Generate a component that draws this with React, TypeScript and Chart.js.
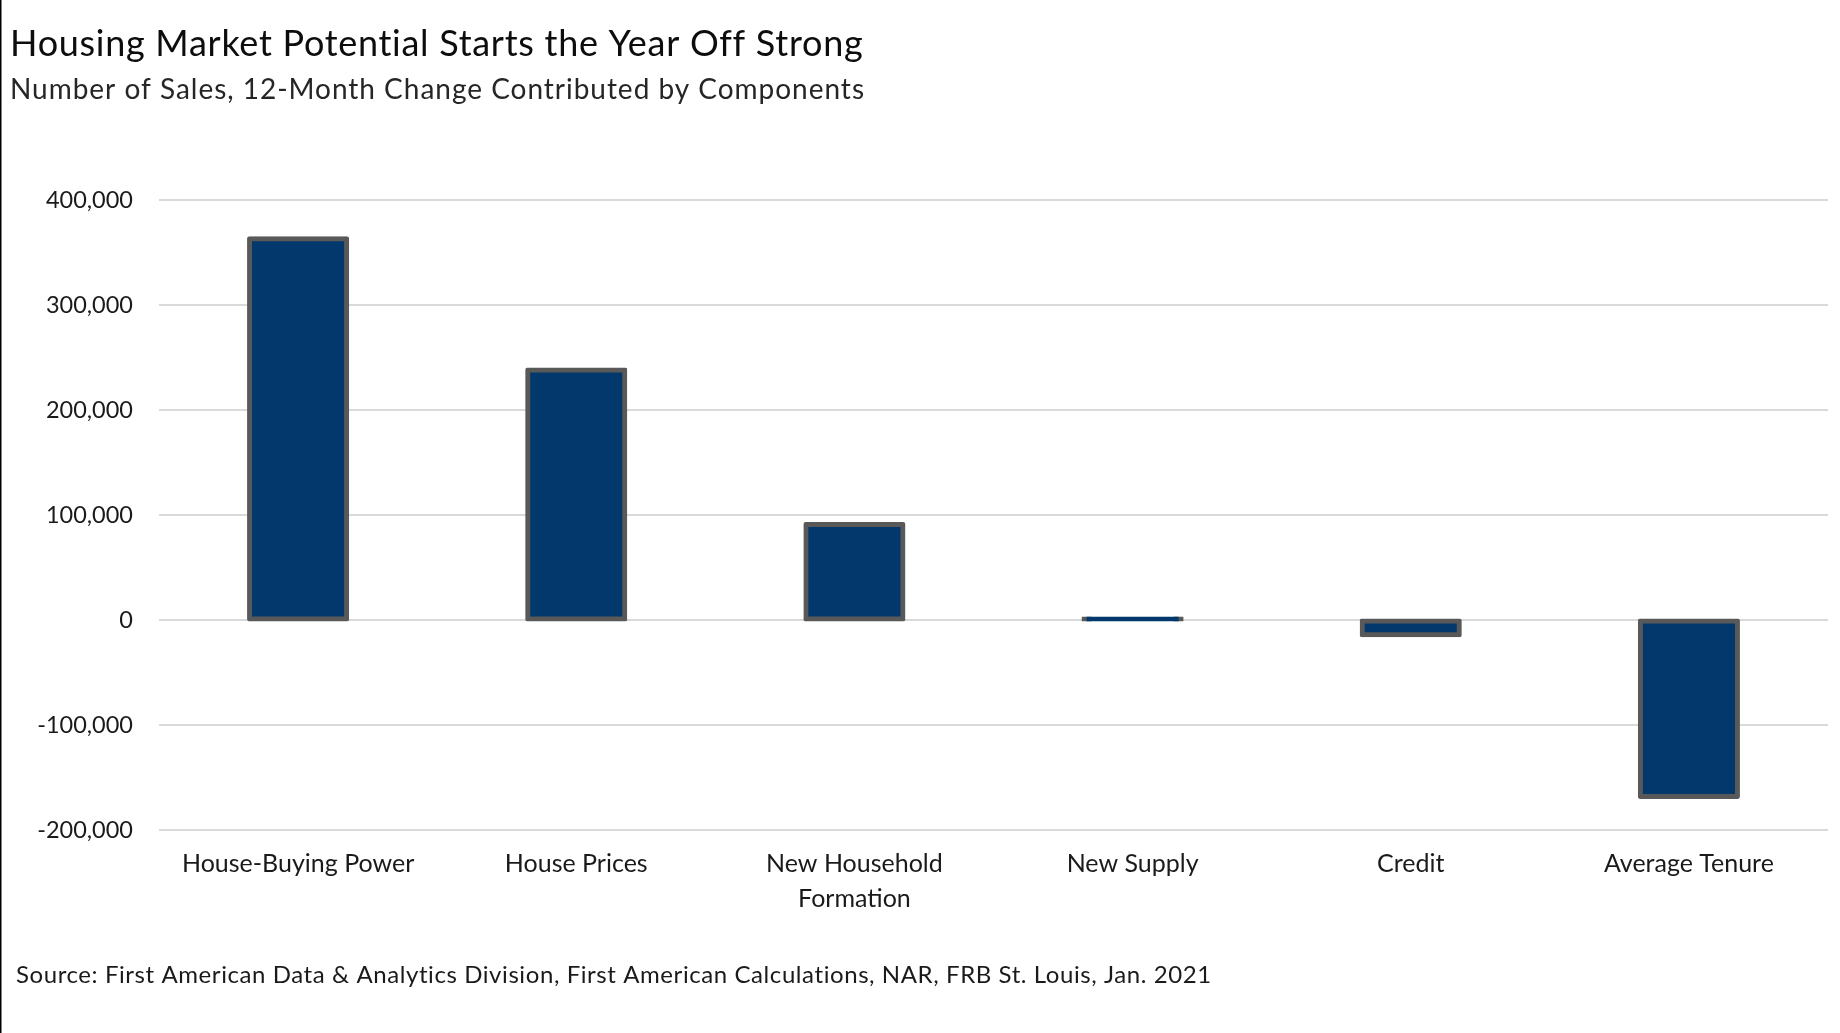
import React, { useEffect, useRef } from "react";
import { Chart, registerables } from "chart.js";

Chart.register(...registerables);

const categories: (string | string[])[] = [
  "House-Buying Power",
  "House Prices",
  ["New Household", "Formation"],
  "New Supply",
  "Credit",
  "Average Tenure",
];
const salesChange: number[] = [363000, 238000, 91000, 1000, -14000, -168000];
const yMin = -200000;
const yMax = 400000;
const yStep = 100000;

const titleText = "Housing Market Potential Starts the Year Off Strong";
const subtitleText = "Number of Sales, 12-Month Change Contributed by Components";
const sourceText =
  "Source: First American Data & Analytics Division, First American Calculations, NAR, FRB St. Louis, Jan. 2021";

const FONT = "Lato, 'Open Sans', sans-serif";

function fitText(ctx: any, text: string, x: number, y: number, targetWidth: number) {
  ctx.letterSpacing = "0px";
  const w = ctx.measureText(text).width;
  const gaps = Math.max(1, text.length - 1);
  const ls = (targetWidth - w) / gaps;
  ctx.letterSpacing = `${ls}px`;
  ctx.fillText(text, x, y);
  ctx.letterSpacing = "0px";
}

const textPlugin = {
  id: "textPlugin",
  afterDraw(chart: any) {
    const ctx = chart.ctx as CanvasRenderingContext2D;
    ctx.save();
    ctx.fillStyle = "#000";
    ctx.fillRect(0, 0, 1.5, chart.height);
    ctx.textAlign = "left";
    ctx.textBaseline = "alphabetic";
    ctx.fillStyle = "#0d0d0d";
    ctx.font = `400 36px ${FONT}`;
    fitText(ctx, titleText, 10, 56, 852);
    ctx.fillStyle = "#262626";
    ctx.font = `400 28px ${FONT}`;
    fitText(ctx, subtitleText, 10, 99, 854);
    ctx.fillStyle = "#1a1a1a";
    ctx.font = `400 24px ${FONT}`;
    fitText(ctx, sourceText, 16, 983, 1196);
    ctx.restore();
  },
};

export default function App() {
  const ref = useRef<HTMLCanvasElement | null>(null);
  useEffect(() => {
    if (!ref.current) return;
    const chart = new Chart(ref.current, {
      type: "bar",
      data: {
        labels: categories,
        datasets: [
          {
            data: salesChange,
            backgroundColor: "#02386C",
            borderColor: "#595959",
            borderWidth: 5,
            borderRadius: 2,
            borderSkipped: false,
            inflateAmount: 2.5,
            categoryPercentage: 1,
            barPercentage: 0.349,
          },
        ],
      },
      options: {
        responsive: false,
        animation: false,
        layout: { padding: { top: 200, right: 12, left: 0, bottom: 0 } },
        plugins: {
          legend: { display: false },
          tooltip: { enabled: false },
          title: { display: false },
        },
        scales: {
          x: {
            grid: { display: false },
            border: { display: false },
            ticks: {
              color: "#1a1a1a",
              font: { family: FONT, size: 25, lineHeight: 1.4 },
              padding: 8,
              maxRotation: 0,
              autoSkip: false,
            },
            afterFit: (scale: any) => {
              scale.height = 203;
            },
          },
          y: {
            min: yMin,
            max: yMax,
            border: { display: false },
            grid: { color: "#d9d9d9", lineWidth: 2, drawTicks: false },
            ticks: {
              stepSize: yStep,
              color: "#1a1a1a",
              font: { family: FONT, size: 23.5 },
              padding: 26,
              callback: (v: any) => Number(v).toLocaleString("en-US"),
            },
            afterFit: (scale: any) => {
              scale.width = 159;
            },
          },
        },
      },
      plugins: [textPlugin],
    });
    return () => chart.destroy();
  }, []);
  return (
    <div style={{ position: "fixed", left: 0, top: 0, width: 1840, height: 1033, background: "#fff" }}>
      <canvas ref={ref} width={1840} height={1033} style={{ width: 1840, height: 1033, display: "block" }} />
    </div>
  );
}
